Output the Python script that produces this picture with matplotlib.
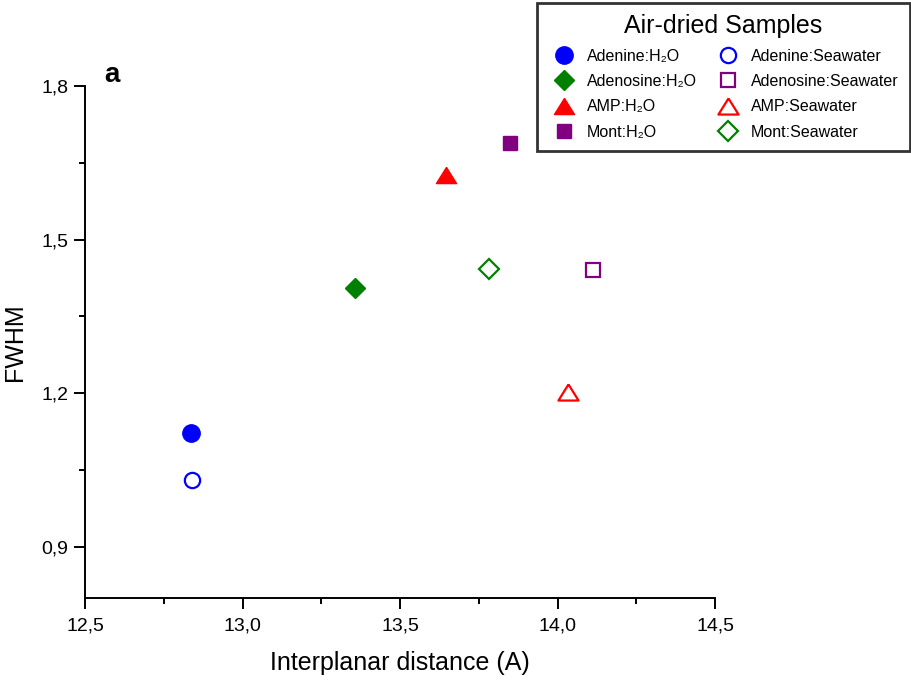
import matplotlib
matplotlib.use("Agg")
import matplotlib.pyplot as plt
from matplotlib.ticker import MultipleLocator

plt.rcParams['font.family'] = ['Liberation Sans', 'DejaVu Sans']

# data
samples = ['Adenine', 'Adenosine', 'AMP', 'Mont']
colors = ['#0000ff', '#008000', '#ff0000', '#800080']
h2o_x = [12.835, 13.357, 13.646, 13.849]
h2o_y = [1.122, 1.406, 1.626, 1.689]
sea_x = [12.840, 14.113, 14.033, 13.781]
sea_y = [1.031, 1.441, 1.203, 1.443]
sea_colors = ['#0000ff', '#800080', '#ff0000', '#008000']

tri = [(0, 0.8), (-1, -0.8), (1, -0.8), (0, 0.8)]
h2o_markers = ['o', 'D', tri, 's']
h2o_sizes = [12.5, 10.5, 14.5, 10]
sea_markers = ['o', 's', tri, 'D']
sea_sizes = [11, 10.5, 14.5, 10.5]

fig = plt.figure(figsize=(9.11, 6.82), dpi=100)
ax = fig.add_axes([0.0933, 0.1232, 0.6916, 0.7507])

handles = []
for i, name in enumerate(samples):
    h, = ax.plot(h2o_x[i], h2o_y[i], linestyle='none', marker=h2o_markers[i],
                 ms=h2o_sizes[i], color=colors[i], mec=colors[i],
                 label=name + ':H\u2082O')
    handles.append(h)

for i, name in enumerate(samples):
    h, = ax.plot(sea_x[i], sea_y[i], linestyle='none', marker=sea_markers[i],
                 ms=sea_sizes[i], mfc='white', mec=sea_colors[i], mew=1.6,
                 label=name + ':Seawater')
    handles.append(h)

ax.set_xlim(12.5, 14.5)
ax.set_ylim(0.8, 1.8)
ax.xaxis.set_major_locator(MultipleLocator(0.5))
ax.xaxis.set_minor_locator(MultipleLocator(0.25))
ax.set_yticks([0.9, 1.2, 1.5, 1.8])
ax.set_yticks([1.05, 1.35, 1.65], minor=True)
ax.xaxis.set_major_formatter(lambda v, p: f"{v:.1f}".replace('.', ','))
ax.yaxis.set_major_formatter(lambda v, p: f"{v:.1f}".replace('.', ','))

for s in ['top', 'right']:
    ax.spines[s].set_visible(False)
for s in ['left', 'bottom']:
    ax.spines[s].set_linewidth(1.4)
ax.tick_params(which='major', direction='out', length=8, width=1.4, labelsize=14)
ax.tick_params(axis='x', which='major', pad=6)
ax.tick_params(axis='y', which='major', pad=4)
ax.tick_params(which='minor', direction='out', length=4.5, width=1.4)

ax.set_xlabel('Interplanar distance (A)', fontsize=18, labelpad=12)
ax.set_ylabel('FWHM', fontsize=18, labelpad=10)

fig.text(0.114, 0.88, 'a', fontsize=20, fontweight='bold')

leg = fig.legend(handles, [h.get_label() for h in handles],
                 ncol=2, loc='upper right',
                 bbox_to_anchor=(910 / 911, 1 - 3 / 682),
                 bbox_transform=fig.transFigure,
                 title='Air-dried Samples', title_fontsize=18, fontsize=11.5,
                 frameon=True, fancybox=False, edgecolor='black',
                 borderaxespad=0, handlelength=2.0, handletextpad=0.45,
                 columnspacing=0.95, labelspacing=0.65, borderpad=0.7)
leg.get_frame().set_linewidth(2)

fig.savefig('out.png', dpi=100)
